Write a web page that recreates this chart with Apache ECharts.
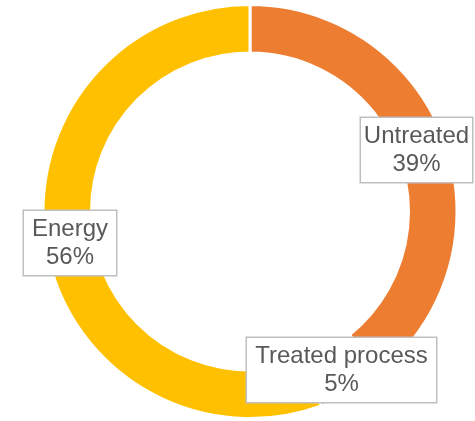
<!DOCTYPE html>
<html>
<head>
<meta charset="utf-8">
<script src="https://cdn.jsdelivr.net/npm/echarts@6/dist/echarts.min.js"></script>
<style>html,body{margin:0;padding:0;background:#fff}#c{width:475px;height:421px}</style>
</head>
<body>
<div id="c"></div>
<script>
const categories = ['Untreated', 'Treated process', 'Energy'];
const values = [39.2, 5.2, 55.6];

const colors = ['#ED7D31', '#A5A5A5', '#FFC000'];
const labelBoxes = [
  { x: 416.5, y: 150, w: 111 },
  { x: 341.5, y: 370, w: 189 },
  { x: 70, y: 243, w: 92 }
];

const chart = echarts.init(document.getElementById('c'));
chart.setOption({
  animation: false,
  series: [{
    type: 'pie',
    center: [250, 211.5],
    radius: [158.5, 207],
    startAngle: 90,
    clockwise: true,
    avoidLabelOverlap: false,
    percentPrecision: 0,
    itemStyle: { borderColor: '#fff', borderWidth: 3 },
    labelLine: { show: false },
    label: {
      show: true,
      position: 'outside',
      formatter: '{b}\n{d}%',
      fontFamily: 'Liberation Sans, Arial, sans-serif',
      fontSize: 24,
      lineHeight: 28,
      color: '#595959',
      backgroundColor: '#fff',
      borderColor: '#BFBFBF',
      borderWidth: 1.5,
      padding: [4, 0],
      align: 'center'
    },
    labelLayout: function (p) {
      const b = labelBoxes[p.dataIndex];
      return { x: b.x, y: b.y, align: 'center', verticalAlign: 'middle' };
    },
    data: categories.map((n, i) => ({
      name: n,
      value: values[i],
      itemStyle: { color: colors[i] },
      label: { width: labelBoxes[i].w }
    }))
  }]
});
</script>
</body>
</html>
